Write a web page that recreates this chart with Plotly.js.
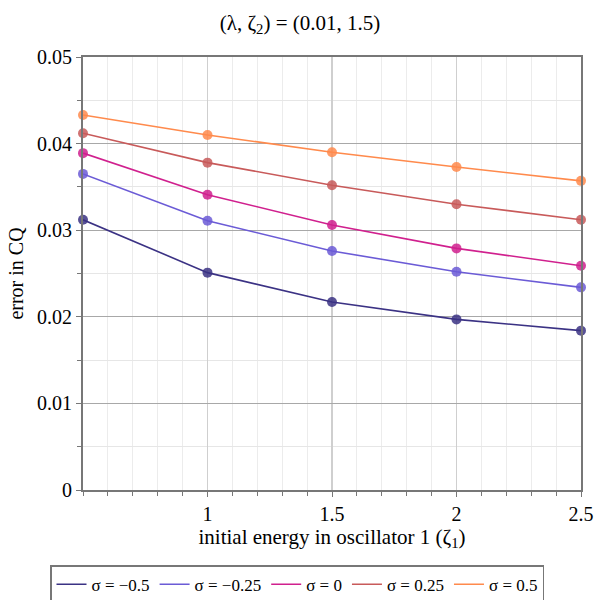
<!DOCTYPE html>
<html>
<head>
<meta charset="utf-8">
<script src="https://cdn.plot.ly/plotly-3.0.1.min.js"></script>
<style>
  body { margin: 0; background: #fff; }
  #chart { width: 600px; height: 600px; }
</style>
</head>
<body>
<div id="chart"></div>
<script>
// initial energy in oscillator 1
const zeta1 = [0.5, 1, 1.5, 2, 2.5];

const sigmaLabels = ["σ = −0.5", "σ = −0.25", "σ = 0", "σ = 0.25", "σ = 0.5"];

const errMinus050 = [0.0312, 0.0251, 0.0217, 0.0197, 0.0184];
const errMinus025 = [0.0365, 0.0311, 0.0276, 0.0252, 0.0234];
const errZero = [0.0389, 0.0341, 0.0306, 0.0279, 0.0259];
const errPlus025 = [0.0412, 0.0378, 0.0352, 0.0330, 0.0312];
const errPlus050 = [0.0433, 0.0410, 0.0390, 0.0373, 0.0357];

const colors = ["#3b3284", "#6b5bd6", "#d0208e", "#c85a5a", "#ff8a4c"];

const xTicks = [1, 1.5, 2, 2.5];
const yTicks = [0, 0.01, 0.02, 0.03, 0.04, 0.05];

const serif = "Liberation Serif, Times New Roman, serif";

const allSeries = [errMinus050, errMinus025, errZero, errPlus025, errPlus050];

let traces = [];
allSeries.forEach((ys, i) => {
  traces.push({
    type: "scatter",
    mode: "lines+markers",
    x: zeta1,
    y: ys,
    name: sigmaLabels[i],
    showlegend: false,
    line: { color: colors[i], width: 1.6 },
    marker: { color: colors[i], size: 10, opacity: 0.85 },
    cliponaxis: false,
  });
});
// legend shows only the line, like the original
allSeries.forEach((ys, i) => {
  traces.push({
    type: "scatter",
    mode: "lines",
    x: [null],
    y: [null],
    name: sigmaLabels[i],
    line: { color: colors[i], width: 1.6 },
  });
});

let layout = {
  width: 600,
  height: 600,
  margin: { l: 83, r: 19, t: 57, b: 110 },
  paper_bgcolor: "#fff",
  plot_bgcolor: "#fff",
  font: { family: serif, size: 20, color: "#000" },
  title: {
    text: "(λ, ζ<sub>2</sub>) = (0.01, 1.5)",
    font: { family: serif, size: 21 },
    x: 0.5,
    xanchor: "center",
    y: 0.975,
    yanchor: "top",
  },
  xaxis: {
    range: [0.5, 2.5],
    tickvals: xTicks,
    ticktext: xTicks.map(String),
    ticks: "outside",
    ticklen: 5,
    tickcolor: "#777",
    showline: true,
    linecolor: "#777",
    linewidth: 2,
    mirror: true,
    showgrid: true,
    gridcolor: "#cfcfcf",
    gridwidth: 1.5,
    zeroline: false,
    minor: {
      dtick: 0.1,
      tick0: 0.5,
      ticks: "outside",
      ticklen: 4,
      tickcolor: "#777",
      showgrid: true,
      gridcolor: "#ececec",
      gridwidth: 1,
    },
    title: {
      text: "initial energy in oscillator 1 (ζ<sub>1</sub>)",
      font: { family: serif, size: 21 },
      standoff: 5,
    },
  },
  yaxis: {
    range: [0, 0.05],
    tickvals: yTicks,
    ticktext: yTicks.map(String),
    ticks: "outside",
    ticklen: 5,
    tickcolor: "#777",
    showline: true,
    linecolor: "#777",
    linewidth: 2,
    mirror: true,
    showgrid: true,
    gridcolor: "#a8a8a8",
    gridwidth: 1,
    zeroline: false,
    minor: {
      dtick: 0.005,
      ticks: "outside",
      ticklen: 4,
      tickcolor: "#777",
      showgrid: true,
      gridcolor: "#e6e6e6",
      gridwidth: 1,
    },
    title: {
      text: "error in CQ",
      font: { family: serif, size: 20 },
      standoff: 8,
    },
  },
  showlegend: true,
  legend: {
    orientation: "h",
    xref: "container",
    yref: "container",
    x: 0.495,
    xanchor: "center",
    y: 0.058,
    yanchor: "top",
    bordercolor: "#777",
    borderwidth: 1.5,
    bgcolor: "#fff",
    font: { family: serif, size: 17 },
    itemwidth: 30,
    tracegroupgap: 0,
  },
};

Plotly.newPlot("chart", traces, layout, { displayModeBar: false, staticPlot: true });
</script>
</body>
</html>
